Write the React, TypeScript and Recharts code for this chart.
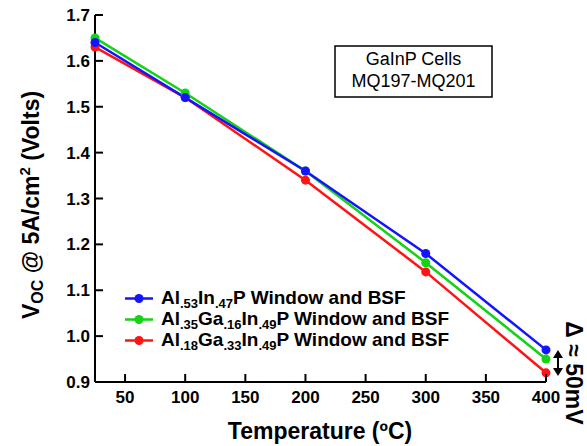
import { Customized, Legend, Line, LineChart, XAxis, YAxis } from 'recharts';

const FONT = '"Liberation Sans", Arial, Helvetica, sans-serif';

// Temperature (°C) and Voc @ 5A/cm2 (V)
const temps = [25, 100, 200, 300, 400];
const alInP = [1.64, 1.52, 1.36, 1.18, 0.97];
const alGaInP35 = [1.65, 1.53, 1.36, 1.16, 0.95];
const alGaInP18 = [1.63, 1.52, 1.34, 1.14, 0.92];

const xTicks = [50, 100, 150, 200, 250, 300, 350, 400];
const yTicks = [0.9, 1.0, 1.1, 1.2, 1.3, 1.4, 1.5, 1.6, 1.7];

const data = temps.map((t, i) => ({
  t,
  alInP: alInP[i],
  alGaInP35: alGaInP35[i],
  alGaInP18: alGaInP18[i],
}));

// legend order top-to-bottom; label = [text, subscript] pairs
const series = [
  { key: 'alInP', color: '#1414ff', parts: [['Al', '.53'], ['In', '.47'], ['P Window and BSF', '']] },
  { key: 'alGaInP35', color: '#14d214', parts: [['Al', '.35'], ['Ga', '.16'], ['In', '.49'], ['P Window and BSF', '']] },
  { key: 'alGaInP18', color: '#ff1414', parts: [['Al', '.18'], ['Ga', '.33'], ['In', '.49'], ['P Window and BSF', '']] },
];
// drawn so blue ends up on top
const drawOrder = ['alGaInP18', 'alGaInP35', 'alInP'];

const TICK = 8;

const BottomTick = ({ x, y, payload }: any) => (
  <g>
    <line x1={x} x2={x} y1={y} y2={y - TICK} stroke="#000" strokeWidth={2} />
    <text x={x} y={y + 21} textAnchor="middle" fontFamily={FONT} fontWeight="bold" fontSize={17} fill="#000">
      {payload.value}
    </text>
  </g>
);

const TopTick = ({ x, y }: any) => (
  <line x1={x} x2={x} y1={y} y2={y + TICK} stroke="#000" strokeWidth={2} />
);

const LeftTick = ({ x, y, payload }: any) => (
  <g>
    <line x1={x} x2={x + TICK} y1={y} y2={y} stroke="#000" strokeWidth={2} />
    <text x={x - 5} y={y + 6} textAnchor="end" fontFamily={FONT} fontWeight="bold" fontSize={17} fill="#000">
      {Number(payload.value).toFixed(1)}
    </text>
  </g>
);

const RightTick = ({ x, y }: any) => (
  <line x1={x} x2={x - TICK} y1={y} y2={y} stroke="#000" strokeWidth={2} />
);

function LegendBox() {
  return (
    <div style={{ fontFamily: FONT, fontWeight: 'bold', fontSize: 19, color: '#000' }}>
      {series.map((s) => (
        <div key={s.key} style={{ display: 'flex', alignItems: 'center', height: 21, whiteSpace: 'nowrap' }}>
          <svg width={36} height={21} style={{ flex: 'none' }}>
            <line x1={0} x2={28} y1={10.5} y2={10.5} stroke={s.color} strokeWidth={2.5} />
            <circle cx={14} cy={10.5} r={4.5} fill={s.color} />
          </svg>
          <span style={{ lineHeight: '21px' }}>
            {s.parts.map(([t, sub], i) => (
              <span key={i}>
                {t}
                {sub && (
                  <span style={{ fontSize: 13, position: 'relative', top: 4 }}>{sub}</span>
                )}
              </span>
            ))}
          </span>
        </div>
      ))}
    </div>
  );
}

function Annotations() {
  return (
    <g fontFamily={FONT} fill="#000">
      {/* sample box */}
      <rect x={335} y={46} width={157} height={51} fill="#fff" stroke="#000" strokeWidth={1.5} />
      <text x={413.5} y={65} textAnchor="middle" fontSize={18}>GaInP Cells</text>
      <text x={413.5} y={87} textAnchor="middle" fontSize={18}>MQ197-MQ201</text>

      {/* axis titles */}
      <text x={320} y={439} textAnchor="middle" fontSize={23} fontWeight="bold">
        Temperature (ºC)
      </text>
      <text
        x={39}
        y={205}
        textAnchor="middle"
        fontSize={23}
        fontWeight="bold"
        transform="rotate(-90, 39, 205)"
      >
        V<tspan fontSize={16} dy={4}>OC</tspan>
        <tspan dy={-4}> @ 5A/cm</tspan>
        <tspan fontSize={15} dy={-9}>2</tspan>
        <tspan dy={9}> (Volts)</tspan>
      </text>

      {/* delta annotation */}
      <line x1={558} x2={558} y1={354} y2={372} stroke="#000" strokeWidth={2} />
      <polygon points="558,350 553,358 563,358" fill="#000" />
      <polygon points="558,376 553,368 563,368" fill="#000" />
      <text
        x={566}
        y={373}
        textAnchor="middle"
        fontSize={23}
        fontWeight="bold"
        transform="rotate(90, 566, 373)"
      >
        Δ ≈ 50mV
      </text>
    </g>
  );
}

export default function App() {
  return (
    <>
      <style>{'body{margin:0;background:#fff}'}</style>
      <LineChart width={587} height={446} data={data} margin={{ top: 15, right: 41, bottom: 0, left: 0 }}>
        <XAxis
          dataKey="t"
          type="number"
          domain={[25, 400]}
          ticks={xTicks}
          interval={0}
          height={64}
          tickSize={0}
          tickMargin={0}
          axisLine={{ stroke: '#000', strokeWidth: 2 }}
          tickLine={false}
          tick={<BottomTick />}
        />
        <XAxis
          xAxisId="top"
          orientation="top"
          dataKey="t"
          type="number"
          domain={[25, 400]}
          ticks={xTicks}
          interval={0}
          height={0}
          tickSize={0}
          tickMargin={0}
          axisLine={{ stroke: '#000', strokeWidth: 2 }}
          tickLine={false}
          tick={<TopTick />}
        />
        <YAxis
          type="number"
          domain={[0.9, 1.7]}
          ticks={yTicks}
          interval={0}
          width={95}
          tickSize={0}
          tickMargin={0}
          axisLine={{ stroke: '#000', strokeWidth: 2 }}
          tickLine={false}
          tick={<LeftTick />}
        />
        <YAxis
          yAxisId="right"
          orientation="right"
          type="number"
          domain={[0.9, 1.7]}
          ticks={yTicks}
          interval={0}
          width={0}
          tickSize={0}
          tickMargin={0}
          axisLine={{ stroke: '#000', strokeWidth: 2 }}
          tickLine={false}
          tick={<RightTick />}
        />
        {drawOrder.map((k) => {
          const s = series.find((d) => d.key === k)!;
          return (
            <Line
              key={k}
              dataKey={k}
              type="linear"
              stroke={s.color}
              strokeWidth={2.5}
              dot={{ r: 4.5, fill: s.color, stroke: 'none' }}
              activeDot={false}
              isAnimationActive={false}
            />
          );
        })}
        <Legend
          layout="vertical"
          align="center"
          verticalAlign="middle"
          content={<LegendBox />}
          wrapperStyle={{ left: 125, top: 288, width: 'auto', height: 'auto' }}
        />
        <Customized component={<Annotations />} />
      </LineChart>
    </>
  );
}
